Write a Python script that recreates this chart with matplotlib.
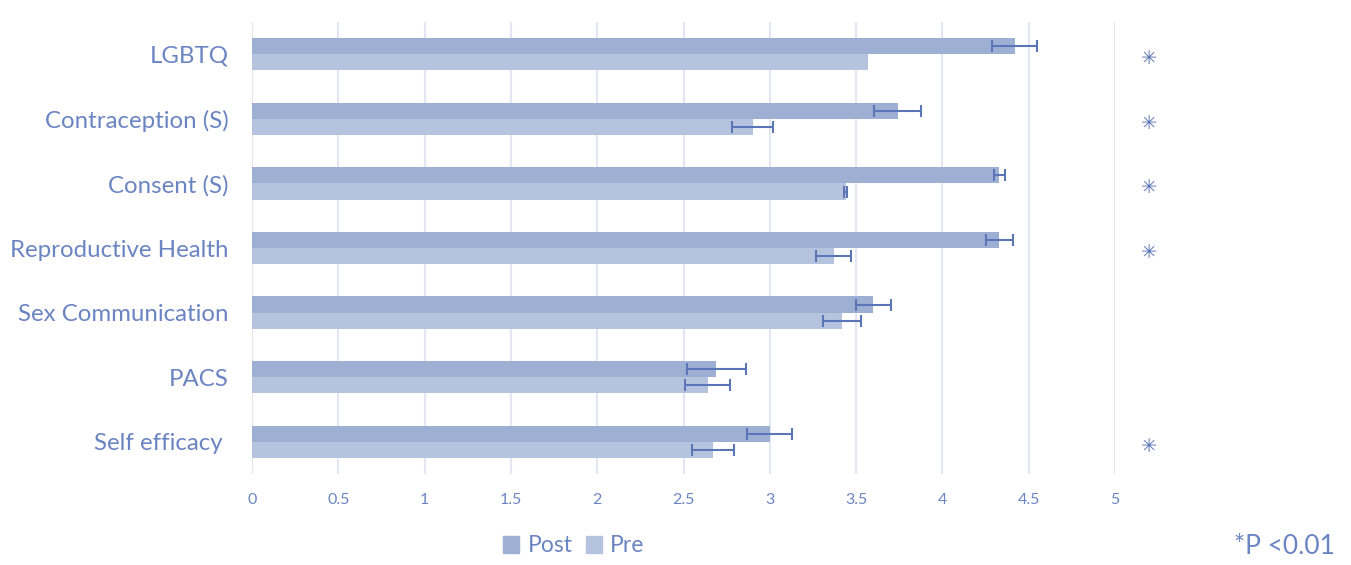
import matplotlib
matplotlib.use("Agg")
import matplotlib.pyplot as plt
import numpy as np
from matplotlib.patches import Patch

categories = ["LGBTQ", "Contraception (S)", "Consent (S)", "Reproductive Health",
              "Sex Communication", "PACS", "Self efficacy "]
post = [4.42, 3.74, 4.33, 4.33, 3.60, 2.69, 3.00]
post_err = [0.13, 0.135, 0.03, 0.08, 0.10, 0.17, 0.13]
pre = [3.57, 2.90, 3.44, 3.37, 3.42, 2.64, 2.67]
pre_err = [0.0, 0.12, 0.01, 0.10, 0.11, 0.13, 0.12]
significant = [True, True, True, True, False, False, True]
xticks = [0, 0.5, 1, 1.5, 2, 2.5, 3, 3.5, 4, 4.5, 5]
xticklabels = ["0", "0.5", "1", "1.5", "2", "2.5", "3", "3.5", "4", "4.5", "5"]

c_post = "#9dafd3"
c_pre = "#b6c3df"
c_text = "#6b84c2"
c_err = "#5b76b6"
c_grid = "#e3e7f3"
font = "Lato"

fig = plt.figure(figsize=(13.51, 5.65), dpi=100)
ax = fig.add_axes([252/1351, 1-474/565, 863/1351, 452/565])

y = np.arange(len(categories))
h = 0.25
ax.barh(y - h/2, post, height=h, color=c_post, zorder=2)
ax.barh(y + h/2, pre, height=h, color=c_pre, zorder=2)
ax.errorbar(post, y - h/2, xerr=post_err, fmt="none", ecolor=c_err,
            elinewidth=1.5, capsize=4, capthick=1.5, zorder=3)
pe = np.array(pre_err)
mask = pe > 0
ax.errorbar(np.array(pre)[mask], (y + h/2)[mask], xerr=pe[mask], fmt="none",
            ecolor=c_err, elinewidth=1.5, capsize=4, capthick=1.5, zorder=3)

ax.set_xlim(0, 5)
ax.set_ylim(len(categories) - 0.5, -0.5)
ax.set_xticks(xticks)
ax.set_xticklabels(xticklabels)
ax.set_yticks(y)
ax.set_yticklabels(categories)
for s in ax.spines.values():
    s.set_visible(False)
ax.grid(axis="x", color=c_grid, linewidth=1.5, zorder=0)
ax.set_axisbelow(True)
ax.tick_params(axis="both", length=0, colors=c_text)
ax.tick_params(axis="y", pad=17)
ax.tick_params(axis="x", pad=14)
for lab in ax.get_yticklabels():
    lab.set_fontfamily(font)
    lab.set_fontsize(17.3)
    lab.set_color(c_text)
for lab in ax.get_xticklabels():
    lab.set_fontfamily(font)
    lab.set_fontsize(11.5)
    lab.set_color(c_text)

for yi, sig in zip(y, significant):
    if sig:
        ax.text(5.2, yi + 0.07, "✳", ha="center", va="center", fontsize=14,
                color=c_err, family="DejaVu Sans", clip_on=False)

handles = [Patch(color=c_post, label="Post"), Patch(color=c_pre, label="Pre")]
leg = fig.legend(handles=handles, loc="center", bbox_to_anchor=(574/1351, 1-546/565),
                 ncol=2, frameon=False, handlelength=0.7, handleheight=0.7,
                 handletextpad=0.35, columnspacing=0.6,
                 prop={"family": font, "size": 16.5})
for t in leg.get_texts():
    t.set_color(c_text)

fig.text(1335/1351, 1-546/565, "*P <0.01", ha="right", va="center",
         fontsize=19, color=c_text, family=font)

fig.savefig("out.png", dpi=100)
